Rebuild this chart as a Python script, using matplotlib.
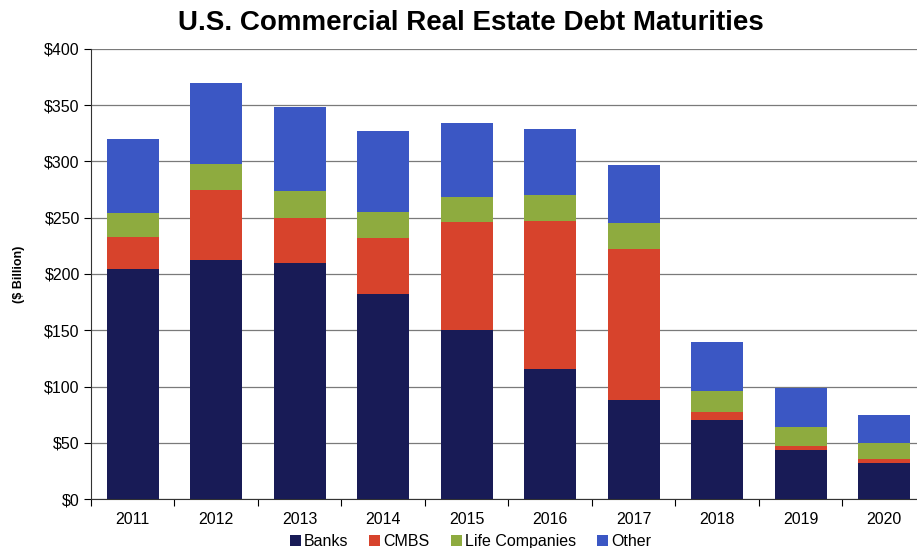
import numpy as np
import matplotlib.pyplot as plt

years = ['2011', '2012', '2013', '2014', '2015', '2016', '2017', '2018', '2019', '2020']
banks = [204, 212, 210, 182, 150, 116, 88, 70, 44, 32]
cmbs = [29, 63, 40, 50, 96, 131, 134, 7, 3, 4]
life = [21, 23, 24, 23, 22, 23, 23, 19, 17, 14]
other = [66, 72, 74, 72, 66, 59, 52, 44, 35, 25]

series = [('Banks', banks, '#181b56'),
          ('CMBS', cmbs, '#d7432c'),
          ('Life Companies', life, '#8eab3f'),
          ('Other', other, '#3b57c4')]

plt.rcParams['font.family'] = ['Liberation Sans', 'DejaVu Sans']

fig = plt.figure(figsize=(9.17, 5.48), dpi=100)
ax = fig.add_axes([0.0992, 0.0894, 0.9106, 0.8212])

x = np.arange(len(years))
bottom = np.zeros(len(years))
for name, vals, col in series:
    ax.bar(x, vals, width=0.62, bottom=bottom, color=col, label=name, zorder=3)
    bottom += np.array(vals)

ax.set_xlim(-0.5, len(years) - 0.5)
ax.set_ylim(0, 400)
ax.set_yticks(np.arange(0, 401, 50))
ax.set_yticklabels(['$%d' % v for v in range(0, 401, 50)], fontsize=11.5)
ax.yaxis.grid(True, color='#7a7a7a', lw=0.9, zorder=0)
ax.tick_params(axis='y', length=5, width=0.8, pad=3)

ax.set_xticks(x)
ax.set_xticklabels(years, fontsize=11.5)
ax.set_xticks(np.arange(-0.5, len(years), 1), minor=True)
ax.tick_params(axis='x', which='major', length=0, pad=9)
ax.tick_params(axis='x', which='minor', length=5, width=0.8)

for s in ['top', 'right']:
    ax.spines[s].set_visible(False)
ax.spines['left'].set_color('#333333')
ax.spines['bottom'].set_color('#333333')

ax.set_ylabel('($ Billion)', fontsize=9, fontweight='bold', labelpad=14)

fig.text(0.513, 0.958, 'U.S. Commercial Real Estate Debt Maturities',
         ha='center', va='center', fontsize=20, fontweight='bold')

fig.legend(loc='center', bbox_to_anchor=(0.513, 0.012), ncol=4, frameon=False,
           fontsize=11.5, handlelength=0.7, handleheight=0.7, handletextpad=0.2,
           columnspacing=1.3)

fig.savefig('out.png', dpi=100)
